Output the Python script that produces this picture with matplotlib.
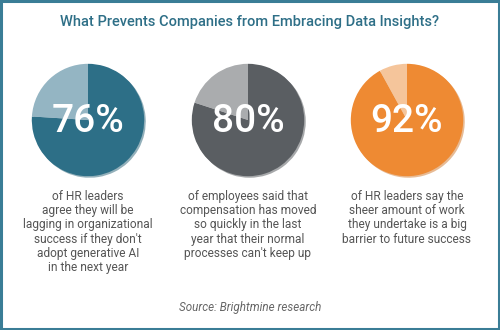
import matplotlib.pyplot as plt
from matplotlib.patches import Rectangle

# --- data ---
shares = [76, 80, 92]
labels = ["76%", "80%", "92%"]
captions = [
    "of HR leaders\nagree they will be\nlagging in organizational\nsuccess if they don't\nadopt generative AI\nin the next year",
    "of employees said that\ncompensation has moved\nso quickly in the last\nyear that their normal\nprocesses can't keep up",
    "of HR leaders say the\nsheer amount of work\nthey undertake is a big\nbarrier to future success",
]
main_colors = ["#2d6f87", "#5a5e62", "#ee8a33"]
rest_colors = ["#94b5c3", "#aaacae", "#f5c59b"]
centers_x = [88, 248, 407]

W, H = 500, 330
fig = plt.figure(figsize=(W / 100, H / 100), dpi=100)
fig.patch.set_facecolor("white")

# outer frame
fig.patches.append(Rectangle((0.002, 0.003), 0.996, 0.994, transform=fig.transFigure,
                             fill=False, edgecolor="#3a7d96", linewidth=2.2))

fig.text(0.5, 1 - 22 / H, "What Prevents Companies from Embracing Data Insights?",
         ha="center", va="center", fontsize=10.5, color="#2e6f87",
         family=["Roboto", "DejaVu Sans"], fontweight="medium")

r = 59
cy = 120
for i in range(3):
    cx = centers_x[i]
    ax = fig.add_axes([(cx - r) / W, (H - cy - r) / H, 2 * r / W, 2 * r / H])
    ax.pie([shares[i], 100 - shares[i]], colors=[main_colors[i], rest_colors[i]],
           startangle=90, counterclock=False,
           shadow={"ox": 0.02, "oy": -0.02, "shade": 0.12},
           wedgeprops={"linewidth": 0})
    ax.set_aspect("equal")
    ax.set_xlim(-1.05, 1.05)
    ax.set_ylim(-1.05, 1.05)
    ax.axis("off")
    ax.text(0, -0.02, labels[i], ha="center", va="center", color="white",
            fontsize=28, family=["Roboto", "DejaVu Sans"], fontweight="medium")

    fig.text(cx / W, 1 - 190 / H, captions[i], ha="center", va="top",
             fontsize=8.6, color="#555555", linespacing=1.12,
             family=["Roboto", "DejaVu Sans"])

fig.text(0.5, 1 - 308 / H, "Source: Brightmine research", ha="center", va="center",
         fontsize=8.4, color="#666666", style="italic",
         family=["Roboto", "DejaVu Sans"])

fig.savefig("out.png", dpi=100, facecolor="white")
